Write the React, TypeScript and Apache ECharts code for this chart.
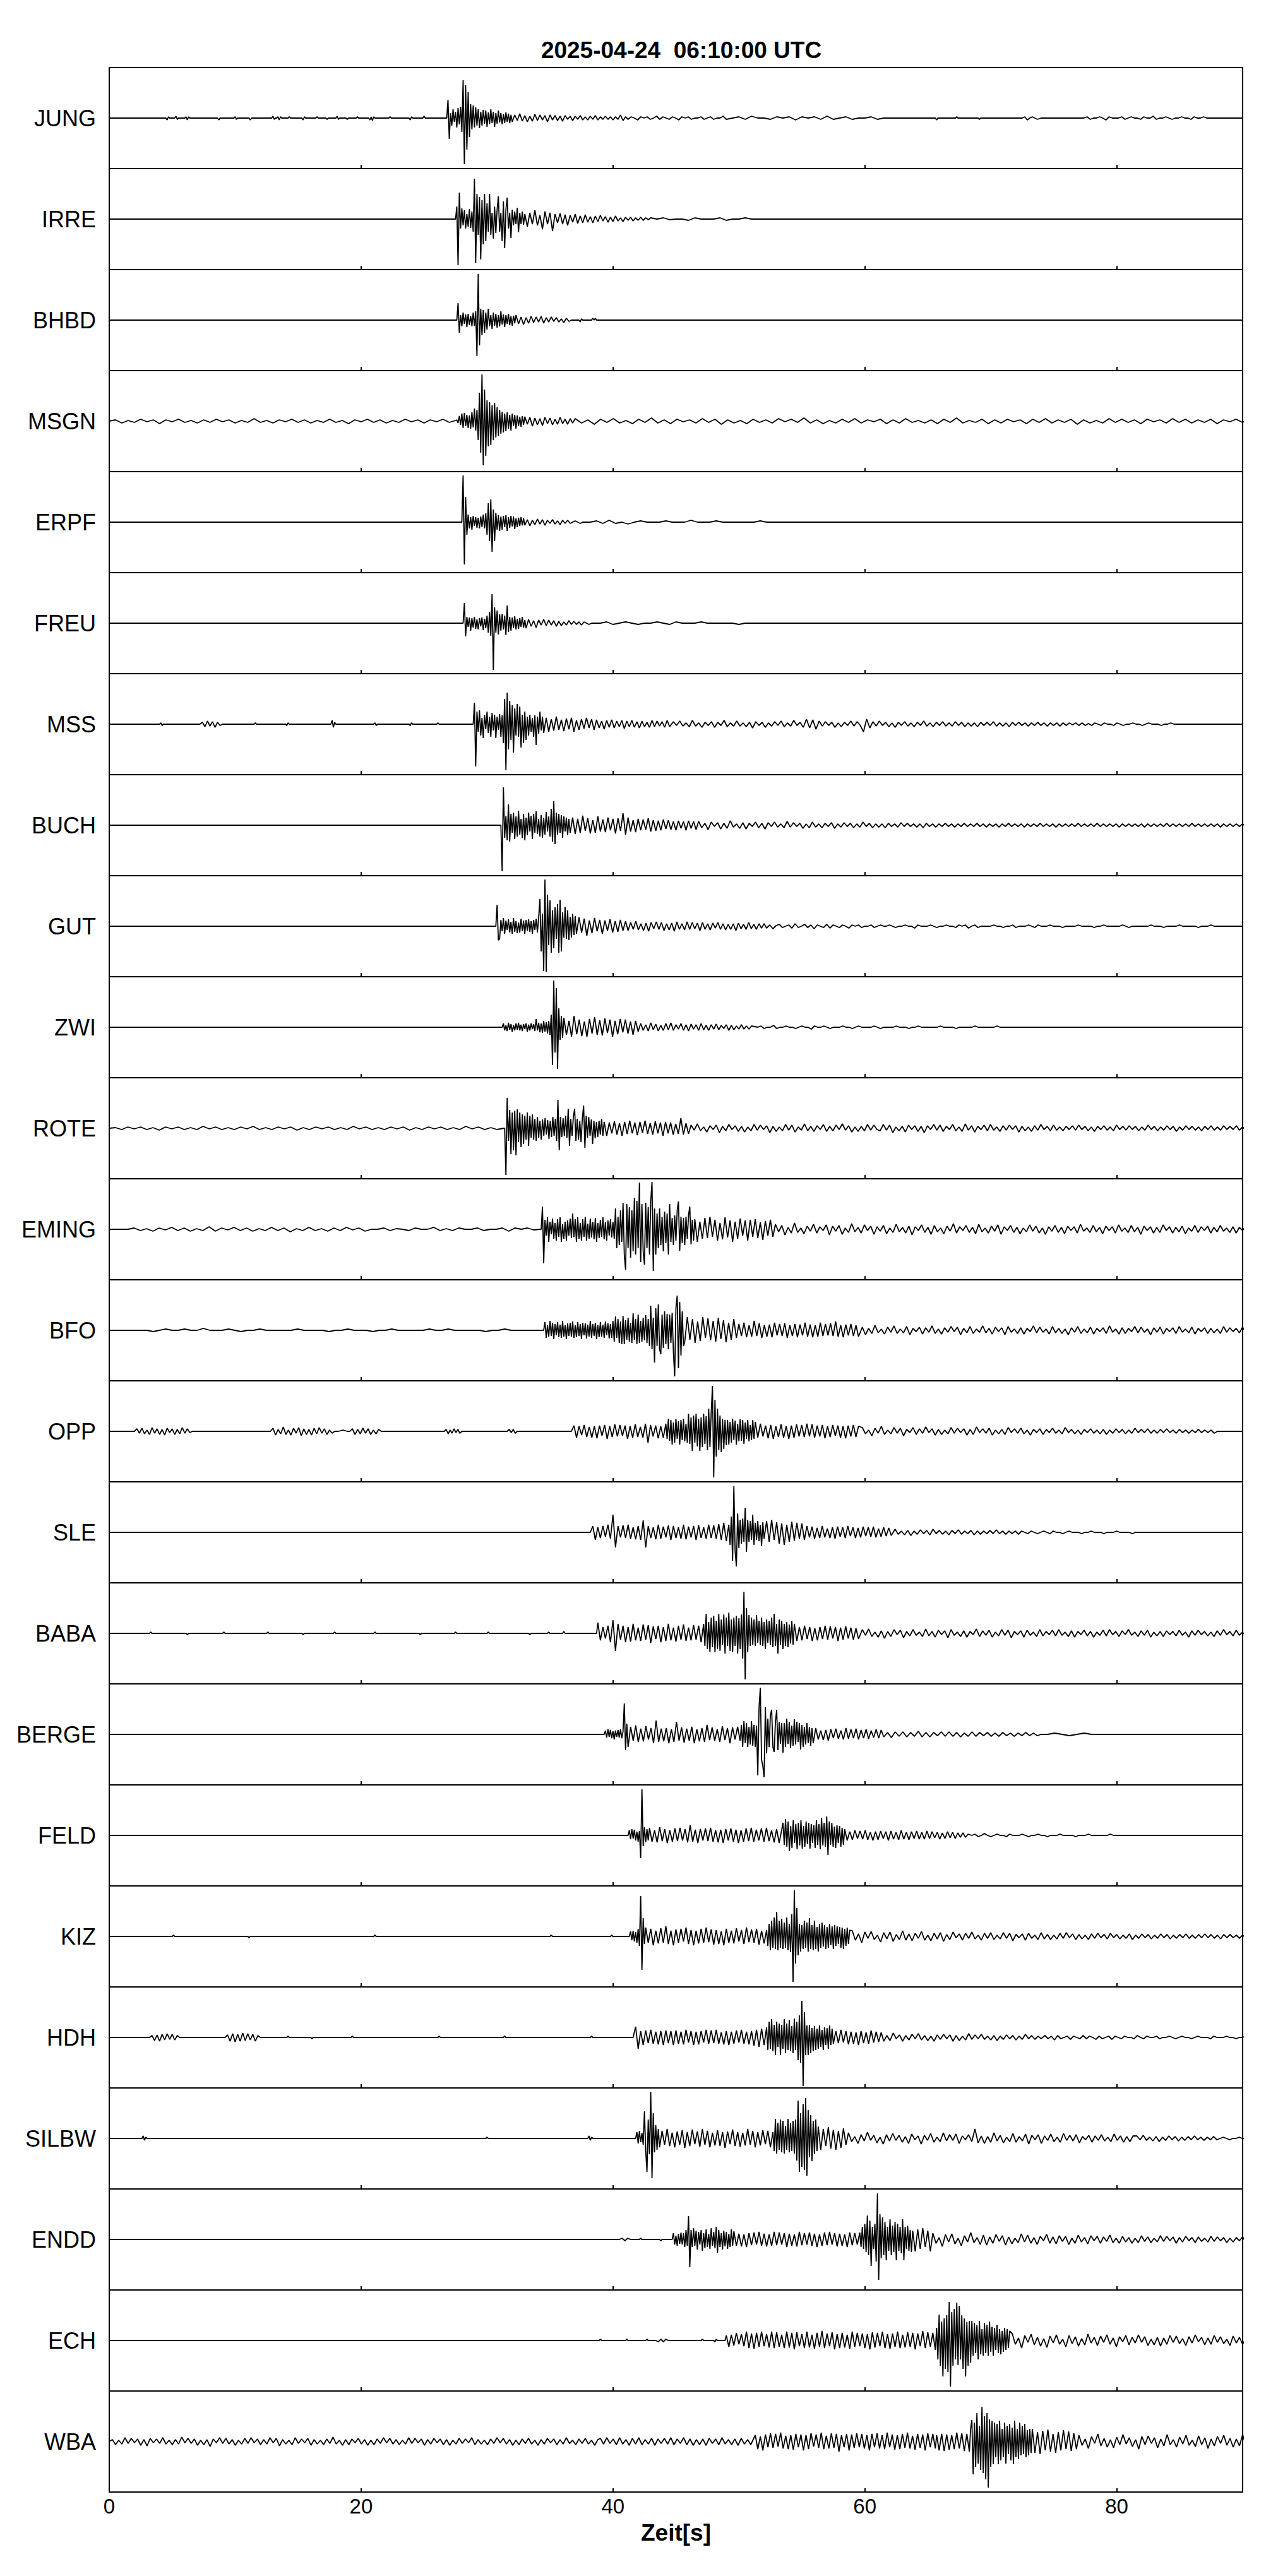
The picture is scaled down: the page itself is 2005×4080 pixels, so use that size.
import React, { useEffect, useRef } from 'react';
import * as echarts from 'echarts';

// A segment = [startTime (s), endTime (s), signed amplitudes (px, + = up)],
// samples spread evenly from startTime to endTime.
type Seg = [number, number, number[]];

const TITLE = '2025-04-24  06:10:00 UTC';
const X_NAME = 'Zeit[s]';
const X_MIN = 0;
const X_MAX = 90;
const X_STEP = 20;

const STATIONS = [
  'JUNG', 'IRRE', 'BHBD', 'MSGN', 'ERPF', 'FREU', 'MSS', 'BUCH', 'GUT', 'ZWI', 'ROTE', 'EMING',
  'BFO', 'OPP', 'SLE', 'BABA', 'BERGE', 'FELD', 'KIZ', 'HDH', 'SILBW', 'ENDD', 'ECH', 'WBA',
];

const JUNG: Seg[] = [
  [0, 4.4, [0, 0]], [4.5, 4.8, [0, -3, 2, 0]], [5.2, 5.5, [0, 3, -2, 0]], [6.0, 6.5, [0, 2, -3, 2, 0, 0]],
  [8.6, 8.8, [0, -3, 0]], [9.9, 10.2, [0, 2, -2, 0]], [11.1, 11.3, [0, -3, 0]], [12.9, 13.7, [0, 3, -2, 0, 0, 2, -3, 2, 0]],
  [14.2, 14.4, [0, 2, 0]], [15.3, 15.6, [0, -3, 2, 0]], [16.4, 16.6, [0, 2, 0]], [17.2, 17.4, [0, -2, 0]],
  [18.0, 18.3, [0, 3, -2, 0]], [18.8, 19.0, [0, -2, 0]], [19.6, 19.8, [0, 2, 0]], [20.6, 21.2, [0, -3, 2, -4, 2, 0, 0]],
  [22.2, 22.4, [0, 2, 0]], [23.8, 24.1, [0, -3, 2, 0]], [24.9, 25.1, [0, 3, 0]],
  [26.8, 31.9, [0, 29, -33, 8, -12, 14, -6, 10, -15, 16, -10, 18, -22, 60, -73, 52, -50, 41, -30, 22, -18, 20, -15, 17, -12, 14, -16, 10, -12, 13, -9, 12, -14, 9, -10, 14, -8, 10, -14, 8, -9, 12, -7, 8, -10, 6, -8, 9, -6, 7, -8, 5]],
  [32, 41, [-6, 5, -4, 7, -5, 4, -6, 3, -5, 6, -4, 5, -3, 4, -6, 5, -3, 4, -4, 3, -5, 4, -2, 3, -4, 3, -2, 4, -3, 2, -3, 3, -2, 4, -3, 2, -2, 3, -2, 2, -3, 2, -2, 5, -4, 2]],
  [41.2, 49, [-2, 2, 0, -3, 2, 0, 2, -2, 0, 3, -2, 2, 0, -2, 2, 0, -3, 2, 0, 2, -2, 0, 0, 2, -2, 0, 2, -2, 0, 0, 3, -2]],
  [49.5, 61, [0, 2, -2, 3, 0, 0, -2, 2, 0, 2, -3, 2, 0, 2, -2, 3, -2, 0, 2, -2, 0, 0, 2, -2]],
  [61.5, 65.5, [0, 0]], [65.6, 65.8, [0, -3, 0]], [67.2, 67.4, [0, 2, 0]], [69.0, 69.2, [0, -2, 0]],
  [72.5, 73.7, [0, 2, -3, 0, 2, 0, -2]], [74, 77.3, [0, 0]],
  [77.4, 87.4, [0, 2, -2, 0, 0, 2, 0, -3, 2, 0, 0, 0, 2, -2, 0, 2, 0, 0, -2, 2, 0, 0, 3, -2, 0, 0, 2, 0, -2, 0, 0, 2, 0, 0, -2, 2, 0, 0, 2, 0, 0]],
  [87.6, 90, [0, 0]],
];
const IRRE: Seg[] = [
  [0, 27.5, [0, 0]],
  [27.5, 33.0, [0, 20, -73, 42, -15, 17, -10, 14, -15, 8, -12, 16, -14, 12, -20, 64, -70, 40, -25, 35, -64, 30, -40, 40, -35, 25, -20, 40, -25, 10, -31, 20, -22, 15, 36, -20, 10, -35, 28, -46, 15, 34, -15, 10, -30, 15, -10, 12, -8, 18, -21, 10, -8, 12, -9, 8]],
  [33.2, 43.0, [-12, 10, -8, 14, -10, 6, -16, 12, -8, 10, -19, 8, -6, 9, -8, 7, -10, 6, -5, 8, -7, 5, -6, 7, -5, 4, -6, 5, -4, 6, -3, 4, -5, 3, -4, 5, -3, 2, -4, 3, -2, 3, -3, 2, -2, 3, -2, 2, -1, 2]],
  [43.5, 51, [0, 2, -1, 0, 0, -2, 2, 0, 0, 0, 2, -2, 0, 0, 2, 0]],
  [51.5, 90, [0, 0]],
];
const BHBD: Seg[] = [
  [0, 27.6, [0, 0]],
  [27.6, 32.3, [0, 27, -20, 8, -10, 12, -6, 9, -11, 10, -8, 7, -10, 12, -9, 14, -57, 73, -40, 18, -24, 16, -20, 12, -15, 18, -10, 8, -14, 12, -9, 10, -12, 8, -10, 14, -7, 9, -11, 8, -6, 10, -8, 6, -9, 7, -5, 8]],
  [32.5, 37.1, [-6, 5, -7, 4, -5, 6, -4, 5, -3, 6, -5, 4, -3, 5, -2, 4, -3, 2, -4, 3, -2, 0, 0, 0]],
  [37.3, 37.6, [0, -3, 2, 0]],
  [38.3, 38.7, [0, 3, 0, 3, 0]],
  [39, 90, [0, 0]],
];
const MSGN: Seg[] = [
  [0, 27.5, [0, 2, -3, 1, -2, 3, -1, 2, -4, 2, -1, 3, -2, 1, -3, 2, -2, 3, -1, 2, -3, 1, -2, 4, -2, 1, -3, 2, -1, 3, -2, 2, -3, 1, -2, 3, -2, 1, -4, 2, -1, 3, -2, 2, -3, 1, -2, 3, -1, 2, -3, 2, -1, 3, -2, 1]],
  [27.6, 32.9, [2, -3, 8, -6, 12, -11, 13, -8, 10, -11, 9, -12, 14, -10, 20, -15, 18, -30, 45, -50, 74, -70, 50, -55, 33, -40, 30, -38, 25, -30, 29, -26, 22, -24, 18, -20, 15, -18, 12, -16, 14, -12, 10, -15, 12, -8, 10, -12, 9, -8, 7, -9, 8, -6]],
  [33.0, 36.8, [7, -5, 6, -8, 5, -6, 4, -7, 6, -4, 5, -6, 3, -5, 6, -4, 3, -5, 4, -3]],
  [37, 91, [4, -3, 2, -5, 3, -2, 4, -3, 1, -4, 3, -2, 5, -3, 2, -4, 3, -1, 2, -3, 4, -2, 3, -5, 2, -3, 1, -4, 3, -2, 2, -3, 4, -1, 3, -2, 5, -3, 2, -4, 1, -3, 3, -2, 4, -3, 2, -1, 3, -4, 2, -3, 4, -2, 1, -3, 2, -4, 3, -2, 5, -3, 1, -2, 3, -4, 2, -3, 3, -1, 2, -4, 3, -2, 4, -3, 2, -2, 3, -5, 2, -3, 1, -3, 4, -2, 3, -2, 2, -4, 3, -1, 2, -3, 4, -2, 3, -3, 2, -2, 3, -4, 2, -1, 3, -2, 4, -3]],
];
const ERPF: Seg[] = [
  [0, 28, [0, 0]],
  [28.0, 32.9, [0, 74, -67, 40, -20, 12, -10, 8, -12, 10, -6, 8, -9, 7, -10, 9, -8, 12, -10, 14, -20, 30, -30, 36, -47, 20, -30, 15, -12, 11, -14, 9, -12, 10, -8, 11, -14, 8, -9, 10, -7, 9, -11, 6, -8, 7, -6, 8, -5, 6]],
  [33.0, 38.0, [-5, 4, -6, 3, -4, 5, -3, 4, -5, 3, -2, 4, -3, 2, -4, 3, -2, 3, -2, 0, 2, 0, -2, 0, 0, 0]],
  [38.2, 52.7, [0, 2, -2, 3, -2, 0, -3, 0, 2, 0, 0, 0, 2, 0, 0, 0, 3, 0, 0, 0, 2, 0, 0, 0, 0, 0, 0, 2, 0, 0]],
  [53, 90, [0, 0]],
];
const FREU: Seg[] = [
  [0, 28.1, [0, 0]],
  [28.1, 33.1, [0, 32, -21, 10, -6, 9, -12, 8, -7, 10, -9, 6, -10, 8, -5, 9, -11, 7, -8, 12, -15, 18, -20, 46, -74, 25, -15, 20, -18, 14, -12, 15, -10, 12, -19, 28, -14, 10, -12, 9, -8, 11, -10, 7, -9, 8, -6, 10, -7, 5, -8]],
  [33.3, 38.7, [6, -5, 4, -7, 5, -3, 6, -4, 5, -3, 4, -5, 3, -4, 2, -3, 4, -2, 3, -2, 2, -3, 2, 0, -2, 0, 0, 0]],
  [39, 51, [0, 2, -2, 0, 2, 0, -2, 0, 0, 2, 0, -2, 2, 0, 0, 0, 2, 0, 0, 0, 0, 0, -2, 0, 0]],
  [51.5, 90, [0, 0]],
];
const MSS: Seg[] = [
  [0, 4.0, [0, 0]], [4.0, 4.3, [0, 2, -2, 0]], [7.2, 9.0, [0, 3, -4, 5, -3, 4, -5, 3, -2, 0]], [11.5, 11.7, [0, 2, 0]],
  [14.0, 14.3, [0, -2, 2, 0]], [17.6, 18.0, [0, 6, -5, 3, 0]], [21, 21.3, [0, 2, -2, 0]], [23.8, 24.1, [0, -2, 2, 0]], [26, 26.2, [0, 2, 0]],
  [28.9, 34.5, [0, 34, -67, 20, -12, 22, -18, 10, -22, 15, -8, 20, -14, 12, -20, 18, -10, 15, -22, 12, -9, 16, -20, 14, -30, 40, -73, 50, -40, 37, -25, 30, -45, 25, -18, 32, -20, 28, -37, 15, -30, 20, -25, 12, -18, 15, -12, 10, -20, 14, -33, 12, -15, 20, -10, 12, -14]],
  [34.7, 44.5, [10, -12, 8, -10, 12, -9, 7, -11, 9, -8, 10, -12, 6, -9, 8, -7, 10, -6, 8, -9, 7, -6, 5, -8, 6, -5, 7, -6, 5, -4, 6, -7, 5, -4, 6, -5, 4, -6, 5, -4, 3, -5, 6, -4, 5, -3, 4, -5, 6, -4]],
  [44.8, 85.3, [
    4, -2, 5, -3, 2, -4, 6, -3, 2, -5, 3, -2, 4, -5, 3, -2, 6, -4, 2, -3,
    5, -3, 2, -4, 3, -6, 4, -2, 3, -5, 2, -3, 4, -2, 5, -4, 2, -3, 6, -2,
    3, -5, 8, -6, 7, -8, 5, -3, 4, -2, 3, -5, 2, -4, 3, -2, 5, -3, 4, -2,
    -12, 8, -6, 4, -3, 5, -2, 3, -4, 2, -5, 3, -2, 4, -3, 2, -4, 3, -2, 5,
    -3, 2, -4, 3, -2, 4, -3, 2, -3, 4, -2, 3, -4, 2, -3, 2, -4, 3, -2, 3,
    -2, 4, -3, 2, -3, 2, -4, 3, -2, 3, -2, 2, -3, 2, -2, 3, -2, 2, -3, 2,
    -2, 2, -3, 2, -2, 2, -1, 2, -2, 2, -2, 1, -2, 2, 0, -2, 2, 0, 0, -2,
    2, 0, -2, 0, 0, 2, 0, 0, -2, 0, 2, 0, 0, 0, -2, 0, 0, 2, 0, 0, 0, 0]],
  [86, 90, [0, 0]],
];
const BUCH: Seg[] = [
  [0, 31.1, [0, 0]],
  [31.1, 36.6, [0, -73, 60, -20, 15, -24, 33, -26, 18, -12, 20, -22, 14, -18, 23, -15, 10, -20, 18, -24, 12, -16, 20, -10, 15, -22, 18, -12, 22, -14, 10, -18, 16, -20, 12, -15, 21, -10, 14, -18, 26, -26, 38, -30, 20, -15, 18, -12, 16, -20, 14, -10, 12, -16, 10, -12]],
  [36.8, 46.6, [12, -14, 10, -12, 15, -9, 11, -13, 8, -12, 14, -10, 9, -11, 12, -8, 10, -13, 11, -9, 19, -15, 12, -10, 8, -11, 10, -8, 9, -7, 11, -10, 8, -9, 7, -8, 9, -6, 8, -7, 6, -8, 7, -5, 6, -8, 7, -5, 6, -7]],
  [46.8, 91, [
    6, -4, 3, -7, 5, -2, 4, -6, 3, -5, 7, -3, 2, -5, 4, -6, 3, -2, 5, -4,
    3, -6, 4, -2, 5, -3, 2, -4, 6, -3, 4, -2, 3, -5, 2, -4, 5, -3, 2, -4,
    3, -2, 4, -5, 2, -3, 4, -2, 3, -4, 2, -3, 5, -2, 3, -4, 2, -3, 2, -4,
    3, -2, 2, -3, 4, -2, 3, -2, 2, -3, 2, -4, 3, -2, 2, -3, 2, -2, 3, -2,
    2, -3, 2, -2, 3, -2, 2, -2, 3, -2, 2, -3, 2, -2, 2, -3, 2, -2, 3, -2,
    2, -2, 2, -3, 2, -2, 2, -2, 3, -2, 2, -2, 2, -3, 2, -2, 2, -2, 2, -2,
    3, -2, 2, -2, 2, -2, 3, -2, 2, -2, 2, -2, 2, -3, 2, -2, 2, -2, 2, -2,
    2, -3, 2, -2, 2, -2, 2, -2, 3, -2, 2, -2, 2, -2, 2, -2, 3, -2, 2, -2,
    2, -2, 2, -2, 2, -3, 2, -2, 2, -2, 2, -2, 2, -2, 2, -2, 0]],
];
const GUT: Seg[] = [
  [0, 30.7, [0, 0]],
  [30.7, 34.1, [0, 34, -22, -20, 10, -8, 13, -12, 9, -6, 11, -10, 7, -12, 13, -9, 8, -11, 6, -10, 12, -8, 9, -12, 10, -7, 11, -9, 8, -12, 10, -6, 12, -10, 14]],
  [34.2, 37.0, [43, -40, 20, -71, 74, -72, 50, -30, 41, -42, 25, -35, 30, -20, 35, -42, 42, -40, 22, -18, 31, -20, 25, -22, 15, -18, 20, -14, 16]],
  [37.1, 41.0, [-12, 14, -10, 12, -15, 9, -11, 13, -8, 10, -12, 9, -7, 11, -10, 8, -9, 10, -7, 8]],
  [41.2, 52.0, [-7, 6, -5, 8, -6, 4, -7, 5, -8, 6, -4, 7, -5, 6, -7, 4, -6, 5, -8, 7, -5, 4, -6, 7, -5, 6, -4, 5, -7, 6, -5, 4, -6, 5, -3, 6, -5, 4, -6, 3, -5, 4, -7, 5, -4, 3, -5, 6, -4, 3, -5, 4, -3, 4]],
  [52.2, 61.5, [-3, 2, -4, 1, 3, -2, 0, 2, -3, 4, -2, 0, 3, -2, 2, -4, 2, 0, -2, 3, -3, 2, 0, -2, 2, 0, -3, 2, 0, 2, -2, 0, 0, 2, -2, 0, 2, 0]],
  [61.7, 74, [0, 2, 0, -2, 0, 0, 2, 0, 0, -3, 2, 0, 0, 0, 2, 0, -2, 0, 0, 2, 0, 0, -2, 2, 0, 2, -3, 0, 2, -2, 0, 0, 0, 0, 2, 0, 0, -2, 0, 0, 2, -2, 0, 0, 0, 2, 0, -2, 2, 0]],
  [74.2, 90, [0, 0, 2, 0, 0, 0, -2, 0, 0, 0, 0, 2, 0, 0, 0, 0, -2, 0, 0, 2, 0, 0, 0, 0, 0, 2, 0, -2, 0, 0, 0, 0, 0, 0, 2, 0, 0, 0, -2, 0, 0, 0, 0, 2, 0, 0, 0, 0, 0, -2, 0, 0, 0, 2, 0, 0, 0, 0, 0, 0, 0, 0, 0, 0]],
];
const ZWI: Seg[] = [
  [0, 31.2, [0, 0]],
  [31.2, 34.8, [0, 6, -5, 3, -6, 7, -4, 5, -7, 3, -5, 6, -4, 7, -5, 4, -6, 5, -3, 6, -7, 4, -5, 6, -3, 5, -6, 13, -5, 7, -8, 6, -9, 10, -7, 8, -10]],
  [34.9, 36.0, [10, -12, 20, -60, 74, -40, 62, -66, 30, -20, 18, -17]],
  [36.1, 41.8, [15, -12, 10, -15, 18, -11, 12, -14, 9, -15, 13, -10, 16, -12, 11, -13, 14, -9, 12, -15, 10, -11, 13, -8, 12, -10, 9, -12, 10]],
  [42, 51, [-7, 6, -5, 4, -6, 7, -4, 5, -6, 3, -5, 6, -4, 7, -5, 4, -3, 6, -5, 4, -6, 5, -3, 4, -5, 6, -4, 3, -5, 4, -3, 5, -4, 3, -2, 4, -5, 3, -4, 2, -3, 4, -3, 2, -3, 2]],
  [51.5, 71, [0, 2, -2, 0, 0, 3, -2, 0, 0, 2, 0, 0, -2, 0, 2, 0, 0, -3, 2, 0, 0, 2, 0, -2, 0, 0, 0, 2, 0, 0, -2, 0, 2, 0, 0, 0, 0, 2, 0, -2, 0, 0, 0, 0, 2, 0, 0, 0, -2, 0, 0, 2, 0, 0, 0, 0, 0, 0, 2, 0, 0, 0, 0, -2, 0, 0, 0, 0, 0, 2, 0, 0, 0, 0, 0, 0, 2, 0, 0]],
  [71.5, 90, [0, 0]],
];
const ROTE: Seg[] = [
  [0, 31.3, [0, 1, -2, 2, -1, 2, -2, 1, -3, 2, -1, 2, -2, 1, -2, 3, -1, 2, -2, 1, -2, 2, -1, 3, -2, 1, -2, 2, -1, 2, -3, 1, -2, 2, -1, 2, -2, 1, -2, 3, -1, 2, -2, 1, -2, 2, -1, 2, -3, 1, -2, 2, -1, 2, -2, 1, -2, 3, -1, 2, -2, 1, -2, 0]],
  [31.4, 34.0, [0, -74, 48, -20, 29, -41, 25, -35, 28, -43, 30, -22, 25, -30, 22, -25, 20, -18, 25, -28, 20, -15, 22, -18, 15, -20, 18]],
  [34.1, 39.2, [-15, 12, -18, 14, -12, 16, -10, 13, -17, 12, -14, 18, -12, 15, -20, 45, -35, 18, -14, 16, -12, 20, -15, 31, -28, 15, -12, 18, 31, -20, 15, -18, 12, -22, 16, 36, -31, 20, -15, 18, -12, 14, -25, 12, -16, 10, -14, 12, -10, 15, -12]],
  [39.3, 46.0, [10, -12, 9, -8, 11, -10, 8, -12, 10, -9, 12, -8, 9, -11, 10, -7, 12, -9, 8, -10, 11, -8, 9, -12, 10, -8, 9, -10, 7, -9, 16, -10, 8, -9]],
  [46.2, 91, [
    5, -3, 7, -4, 2, -6, 4, -2, 5, -7, 3, -4, 6, -2, 4, -5, 3, -6, 2, -4,
    6, -3, 5, -2, 4, -7, 3, -5, 2, -4, 6, -3, 5, -6, 2, -3, 7, -4, 3, -5,
    4, -2, 6, -5, 3, -4, 5, -2, 7, -3, 4, -6, 2, -5, 3, -4, 6, -3, 5, -2,
    -4, 6, -3, 5, -7, 2, -4, 3, -6, 5, -2, 4, -5, 3, -7, 4, -2, 6, -3, 5,
    -5, 3, -2, 6, -4, 2, -5, 7, -3, 4, -6, 3, -2, 5, -4, 6, -3, 2, -5, 4,
    -3, 5, -2, 4, -6, 3, -4, 2, -5, 4, -3, 6, -2, 3, -4, 5, -3, 2, -4, 3,
    -2, 4, -3, 5, -2, 3, -4, 2, -5, 3, -2, 4, -3, 2, -4, 5, -2, 3, -3, 4,
    -2, 3, -4, 2, -3, 5, -2, 3, -4, 2, -3, 4, -2, 3, -5, 2, -3, 4, -2, 3,
    -3, 2, -4, 3, -2, 4, -3, 2, -3, 4, -2, 3, -2, 4, -3, 2, -3, 3, -2, 2]],
];
const EMING: Seg[] = [
  [0, 34.2, [0, 0, 0, 0, 2, -2, 1, -3, 2, -1, 3, -2, 2, -3, 1, -2, 4, -3, 2, -1, 3, -2, 2, -3, 1, -2, 3, -2, 2, -4, 1, -2, 3, -2, 1, -3, 2, -2, 3, -1, 2, -3, 0, 0, 2, -2, 1, 0, -2, 2, 0, 0, 3, -2, 1, -2, 2, 0, 0, 2, -2, 0, 0, 2, -3, 2, 0, 2, -1, 0]],
  [34.3, 40.1, [0, 36, -54, 15, -10, 19, -20, 12, -8, 17, -15, 10, -18, 16, -12, 19, -20, 8, -15, 12, -18, 14, -10, 17, -14, 25, -12, 16, -20, 19, -15, 10, -18, 16, -12, 20, -18, 9, -15, 17, -13, 12, -16, 18, -20, 10, -14, 15, -12, 19, -16, 11, -18, 14, -10, 16, -13, 12, -15]],
  [40.2, 46.4, [33, -30, 20, -25, 30, -20, 42, -40, -64, 40, -30, 35, -45, 30, -35, 50, -40, 45, -30, 74, -52, 40, -35, -56, 42, -30, 35, -40, 45, 75, -66, 33, -40, 25, -30, 33, -25, 20, -35, 28, -22, 25, -40, 40, -20, 18, -25, 22, -18, 30, 44, -34, 20, -22, 18, -25, 20, -15, 22, 36, -24, 15, -18]],
  [46.5, 52.7, [16, -20, 12, -15, 18, -14, 20, -12, 15, -18, 10, -16, 19, -13, 14, -20, 12, -15, 17, -10, 14, -18, 15, -12, 16, -14, 11, -17, 13, -10, 15, -12]],
  [52.9, 91, [
    8, -4, 6, -9, 3, -6, 10, -5, 2, -7, 5, -3, 8, -6, 4, -2, 7, -9, 5, -3,
    6, -8, 2, -5, 9, -4, 3, -6, 7, -2, 5, -8, 4, -3, 6, -7, 2, -5, 8, -4,
    3, -6, 5, -9, 4, -2, 7, -5, 3, -8, 6, -4, 2, -7, 5, -3, 9, -6, 4, -2,
    6, -5, 3, -7, 8, -4, 2, -6, 5, -3, 7, -8, 4, -2, 6, -5, 3, -7, 2, -4,
    7, -3, 5, -6, 2, -8, 4, -3, 6, -5, 3, -7, 5, -2, 4, -6, 8, -3, 2, -5,
    6, -4, 3, -7, 5, -2, 4, -6, 7, -3, 2, -5, 6, -4, 3, -8, 5, -2, 4, -6,
    3, -5, 7, -2, 4, -6, 3, -4, 5, -7, 2, -3, 6, -5, 4, -2, 5, -6, 3, -4,
    6, -3, 2, -5, 4, -6, 3, -2, 5, -4, 6, -3]],
];
const BFO: Seg[] = [
  [0, 34.4, [0, 0, 0, 0, 0, 0, 0, -2, 0, 2, 0, 0, 2, 0, 0, 3, 0, 0, 0, 2, 0, -2, 0, 0, 2, 0, 0, 0, 0, 0, 2, 0, 0, 0, 0, -2, 0, 0, 2, 0, 0, 0, -2, 0, 0, 2, 0, 0, 0, 0, 0, 2, 0, 0, 2, 0, 0, 0, 0, 0, -2, 0, 0, 2, 0, 0, 0, 0, 0, 0]],
  [34.5, 39.9, [0, 13, -12, 8, -10, 15, -9, 12, -14, 10, -8, 13, -11, 9, -12, 15, -10, 8, -14, 11, -9, 12, -10, 14, -12, 8, -11, 13, -9, 10, -14, 12, -8, 11, -13, 9, -10, 15, -12, 10, -9, 12, -14, 8, -11, 13, -10, 9, -12, 14, -8, 11, -13, 10, -12]],
  [40.0, 45.6, [15, -18, 22, -12, 18, -20, 14, -22, 23, -22, 16, -15, 20, -18, 12, -20, 27, -15, 18, -22, 25, -20, 15, -18, 20, -16, 24, -20, 18, -25, 39, -30, 20, -51, 35, -25, 41, -30, -38, 25, -28, 30, -22, 26, -30, 25, -20, 28, -35, -73, 35, 55, -60, 45, -40, 30, -25]],
  [45.7, 49.8, [-18, 21, -15, 18, -20, 14, -17, 21, -12, 19, -16, 15, -18, 20, -14, 16, -19, 12, -15, 18, -12]],
  [50, 59.5, [10, -9, 12, -11, 8, -10, 15, -9, 11, -12, 8, -10, 9, -11, 12, -8, 10, -9, 11, -12, 8, -9, 10, -11, 9, -8, 12, -10, 9, -11, 8, -10, 12, -9, 10, -8, 11, -9, 14, -10, 8, -11, 9, -8, 10, -9, 8, -10]],
  [59.8, 91, [
    5, -7, 3, -5, 8, -4, 2, -6, 5, -3, 7, -5, 2, -4, 6, -7, 3, -2, 5, -6,
    4, -3, 7, -5, 2, -6, 4, -3, 6, -2, 5, -7, 3, -4, 6, -5, 2, -3, 7, -4,
    3, -6, 5, -2, 4, -7, 6, -3, 2, -5, 4, -6, 3, -2, 7, -4, 5, -3, 2, -6,
    6, -4, 3, -5, 2, -7, 4, -3, 6, -5, 2, -4, 5, -6, 3, -2, 4, -5, 7, -3,
    2, -6, 4, -5, 3, -2, 6, -4, 5, -3, 2, -7, 4, -3, 5, -6, 3, -2, 4, -5,
    6, -3, 2, -4, 5, -6, 3, -2, 4, -5, 3, -4, 2, -5, 6, -3, 4, -2, 3, -4,
    5, -3, 2, -4, 3]],
];
const OPP: Seg[] = [
  [0, 1.9, [0, 0]],
  [2.0, 6.6, [0, 4, -3, 5, -4, 2, -5, 6, -3, 4, -5, 3, -6, 5, -2, 4, -5, 3, -4, 6, -3, 4, -2, 0]],
  [7, 12.6, [0, 0]],
  [12.8, 17.9, [0, 5, -6, 3, -4, 7, -5, 2, -6, 5, -3, 6, -7, 4, -5, 3, -6, 5, -4, 6, -3, 4, -5, 2, -3, 0]],
  [18.2, 18.9, [0, 2, 0]],
  [19.1, 21.6, [0, 4, -5, 3, -4, 5, -3, 4, -5, 2, -4, 3, 0]],
  [22, 26.5, [0, 0]],
  [26.6, 28.0, [0, 3, -4, 2, -3, 4, -2, 3, -3, 0]],
  [28.2, 31.5, [0, 0]],
  [31.6, 32.4, [0, 3, -2, 3, -3, 0]],
  [32.6, 36.6, [0, 0]],
  [36.7, 44.2, [0, 9, -10, 8, -6, 10, -9, 7, -10, 8, -11, 9, -7, 10, -12, 8, -9, 11, -8, 10, -7, 9, -12, 8, -10, 11, -9, 7, -10, 12, -18, 10, -8, 9, -11, 8, -10, 12]],
  [44.3, 47.4, [-12, 20, -15, 18, -21, 14, -18, 20, -12, 16, -21, 18, -14, 20, -16, 12, -18, 28, -20, 22, -31, 25, -18, 28, -24, 20, -31, 22, -25, 28, -20, 24]],
  [47.5, 49.0, [-30, 36, -25, 30, 72, -73, 50, -40, 36, -30, 25, -33, 20, -28, 18, -22]],
  [49.1, 51.3, [18, -21, 15, -18, 20, -14, 17, -21, 12, -16, 19, -15, 18, -20, 14, -12, 18, -16, 10, -14, 18, -12, 15]],
  [51.5, 59.5, [-10, 12, -8, 9, -11, 10, -12, 8, -9, 11, -10, 8, -12, 9, -10, 11, -8, 10, -9, 12, -8, 11, -10, 9, -8, 10, -11, 8, -9, 10, -7, 9, -10, 8, -11, 9, -8, 10, -9, 8]],
  [59.8, 88, [
    6, -4, 2, -7, 5, -3, 8, -5, 2, -4, 6, -3, 5, -7, 3, -2, 6, -5, 4, -3,
    7, -2, 4, -6, 3, -5, 2, -4, 6, -3, 5, -2, 4, -6, 3, -5, 7, -2, 4, -3,
    5, -6, 2, -4, 3, -5, 6, -2, 4, -3, 5, -4, 2, -6, 3, -2, 4, -5, 3, -2,
    5, -3, 2, -4, 6, -2, 3, -4, 2, -5, 3, -2, 4, -3, 2, -4, 3, -5, 2, -3,
    4, -2, 3, -4, 2, -3, 5, -2, 3, -2, 4, -3, 2, -3, 3, -2, 4, -2, 2, -3,
    3, -2, 2, -3, 2, -2, 3, -2, 2, -2, 2, -3, 0]],
  [88.5, 90, [0, 0]],
];
const SLE: Seg[] = [
  [0, 38.1, [0, 0]],
  [38.2, 49.2, [0, 10, -12, 8, -9, 10, -7, 12, -10, 28, -24, 10, -8, 11, -9, 12, -10, 8, -11, 10, -12, 19, -24, 10, -9, 8, -11, 12, -10, 9, -8, 11, -12, 10, -9, 8, -10, 12, -11, 9, -8, 10, -12, 11, -9, 8, -10, 12, -9, 11, -10, 13, -12, 15, -14, 12]],
  [49.3, 52.0, [-20, 25, -45, 73, -30, -54, 30, -25, 20, -18, 22, -15, 39, -31, 20, -15, 18, -12, 28, -20, 15, -12, 18, -14, 12, -22, 16, -10]],
  [52.2, 55.2, [18, -15, 20, -12, 16, -18, 14, -20, 12, -15, 17, -13, 15, -10, 14, -12]],
  [55.4, 62.1, [10, -8, 9, -10, 7, -9, 10, -8, 6, -9, 8, -10, 9, -7, 8, -9, 10, -6, 8, -9, 7, -8, 9, -6, 8, -7, 9, -8, 6, -7, 8, -6, 7, -5]],
  [62.4, 83, [5, -3, 2, -4, 3, -5, 2, -3, 4, -2, 3, -4, 5, -2, 3, -3, 2, -4, 3, -2, 4, -3, 2, -2, 3, -4, 2, -3, 2, -2, 3, -2, 4, -2, 2, -3, 2, -2, 2, -3, 2, 0, -2, 2, 0, -2, 0, 2, 0, -2, 2, 0, 0, -2, 0, 2, 0, 0, 0, -2, 0, 0, 2, 0, 0, 0, -2, 0, 0, 0, 2, 0, 0, 0, 0, -2, 0, 0, 0, 0, 0, 0, 0]],
  [83.5, 90, [0, 0]],
];
const BABA: Seg[] = [
  [0, 3, [0, 0]], [3.2, 3.4, [0, 2, 0]], [6.1, 6.3, [0, -2, 0]], [9, 9.2, [0, 2, 0]], [12.5, 12.7, [0, 2, 0]],
  [15.3, 15.5, [0, -2, 0]], [17.8, 18, [0, 2, 0]], [21, 21.2, [0, 2, 0]], [24.6, 24.8, [0, -2, 0]], [27.4, 27.6, [0, 2, 0]],
  [30, 30.2, [0, 2, 0]], [33.3, 33.5, [0, -2, 0]], [34.8, 35, [0, 2, 0]], [36.0, 36.2, [0, 3, 0]], [36.4, 38.7, [0, 0]],
  [38.8, 47.2, [17, -11, 10, -8, 12, -14, 21, -28, 15, -10, 12, -14, 10, -13, 15, -11, 9, -12, 14, -10, 13, -15, 11, -9, 12, -14, 10, -12, 15, -11, 9, -13, 12, -10, 14, -12, 9, -11, 13, -10, 12, -14, 15]],
  [47.3, 50.2, [-20, 31, -25, 18, -30, 25, -22, 28, -30, 20, -25, 31, -28, 22, -18, 30, -32, 25, -20, 33, -28, 22, -30, 25, -20, 28, -32, 24, -25, 30]],
  [50.3, 51.8, [-40, 66, -73, 40, -30, 29, -20, 25, -18, 22, -20, 29, -15, 20, -18, 25]],
  [51.9, 54.4, [-20, 18, -25, 22, -15, 20, -18, 25, -22, 31, -20, 15, -32, 22, -18, 20, -25, 15, -20, 18, -22, 14, -16, 20, -18, 15]],
  [54.6, 59.5, [-12, 10, -11, 12, -9, 10, -12, 8, -11, 10, -9, 12, -10, 11, -8, 10, -12, 9, -10, 11, -8, 9, -10, 8, -9]],
  [59.8, 91, [
    6, -3, 7, -5, 2, -6, 4, -8, 3, -5, 6, -2, 5, -7, 3, -4, 6, -3, 2, -5,
    7, -4, 3, -6, 5, -2, 4, -7, 6, -3, 2, -5, 4, -6, 3, -2, 7, -5, 4, -3,
    5, -6, 2, -4, 6, -3, 5, -7, 3, -2, 4, -6, 5, -3, 2, -5, 6, -4, 3, -2,
    5, -4, 6, -3, 2, -5, 4, -6, 3, -2, 5, -4, 3, -6, 2, -3, 5, -4, 6, -2,
    3, -5, 4, -2, 6, -3, 2, -5, 4, -3, 5, -6, 2, -4, 3, -5, 4, -2, 3, -4,
    5, -3, 2, -6, 4, -3, 5, -2, 3, -4, 2, -5, 4, -3, 6, -2, 3, -4, 5, -3,
    2, -4, 3, -5, 4]],
];
const BERGE: Seg[] = [
  [0, 39.2, [0, 0]],
  [39.3, 41.1, [0, 6, -5, 8, -4, 7, -6, 5, -8, 6, -4, 7, -5, 8, -6, 5, 49, -25, 17]],
  [41.2, 50.1, [-20, 12, -10, 14, -12, 9, -11, 13, -8, 10, -14, 22, -12, 9, -11, 10, -14, 8, -12, 20, -10, 11, -13, 9, -10, 12, -14, 8, -11, 10, -12, 15, -9, 11, -10, 8, -12, 13, -9, 10, -14, 11, -8, 12, -10]],
  [50.2, 53.5, [15, -20, 21, -14, 18, -20, 12, -16, 21, -18, 15, -20, 14, -65, 43, 74, -40, -50, -68, 43, -30, 25, -20, 30, 39, -20, -28, 20, 39, -25, 20, -15, 18, -29]],
  [53.6, 55.9, [18, -20, 25, -15, 20, -22, 14, -18, 24, -16, 20, -12, 18, -24, 15, -20, 12, -16, 18, -14, 12, -18, 10, -14]],
  [56.1, 61.3, [10, -8, 6, -9, 7, -10, 8, -6, 9, -7, 6, -8, 10, -7, 8, -6, 9, -8, 7, -6, 8, -7, 6, -5, 8, -6, 7]],
  [61.5, 74, [-4, 3, -5, 4, -3, 4, -4, 3, -3, 5, -4, 3, -4, 3, -2, 4, -3, 4, -3, 3, -4, 2, -3, 4, -3, 3, -2, 3, -3, 2, -3, 3, -2, 2, -3, 2, -2, 3, -2, 2, -2, 0]],
  [74.5, 78, [0, 2, 0, -2, 0, 2, 0]],
  [78.5, 90, [0, 0]],
];
const FELD: Seg[] = [
  [0, 41.1, [0, 0]],
  [41.2, 42.8, [0, 8, -6, 10, -5, 9, -8, 6, -10, 7, -36, 73, -17, 13, -11, 10, -8]],
  [42.9, 53.4, [12, -10, 8, -11, 13, -9, 10, -12, 8, -10, 11, -9, 12, -8, 10, -11, 16, -10, 9, -12, 10, -8, 11, -9, 12, -10, 8, -11, 9, -12, 10, -8, 11, -10, 9, -12, 8, -10, 11, -9, 12, -10, 9, -8, 11, -10, 12, -9, 8, -11, 10, -12, 9]],
  [53.5, 58.4, [20, -15, 26, -18, 22, -25, 15, -20, 24, -12, 18, -22, 20, -16, 24, -21, 15, -18, 22, -14, 20, -21, 18, -12, 16, -20, 24, -15, 18, -22, 28, -16, 20, -18, 30, -31, 22, -15, 20, -18, 14, -20, 16, -12, 15, -18, 12, -15, 10]],
  [58.6, 68.2, [-8, 6, -7, 8, -5, 7, -6, 8, -7, 5, -8, 6, -7, 7, -5, 6, -8, 7, -6, 5, -7, 8, -6, 5, -7, 6, -5, 7, -6, 5, -6, 7, -5, 6, -4, 5, -6, 4, -5, 6, -4, 5, -5, 4, -3, 4, -3, 2]],
  [68.5, 80, [0, 2, -2, 0, 3, 0, -2, 0, 2, 0, 0, -2, 2, 0, 0, 0, 2, 0, -2, 0, 0, 2, 0, 0, -2, 0, 0, 0, 2, 0, 0, 0, 0, -2, 0, 0, 0, 2, 0, 0, 0, 0, 0, 0, 2, 0, 0]],
  [80.5, 90, [0, 0]],
];
const KIZ: Seg[] = [
  [0, 4.9, [0, 0]], [5.0, 5.2, [0, 2, 0]], [11, 11.2, [0, -2, 0]], [21, 21.2, [0, 2, 0]], [35, 35.2, [0, 2, 0]], [39.8, 40.0, [0, 2, 0]], [40.2, 41.3, [0, 0]],
  [41.4, 42.5, [8, -6, 9, -8, 7, -10, 12, -15, 64, -53, 29, -12]],
  [42.6, 52.2, [14, -10, 12, -14, 9, -11, 13, -10, 16, -12, 9, -14, 11, -10, 12, -8, 14, -12, 10, -14, 9, -11, 12, -10, 14, -9, 11, -13, 10, -12, 8, -14, 12, -10, 9, -11, 13, -8, 10, -12, 14, -9, 11, -10, 12, -13, 9, -11, 10]],
  [52.3, 54.2, [-15, 20, -22, 25, -18, 30, -20, 39, -22, 25, -18, 28, -20, 22, -18, 30, -22, 20, -25, 35]],
  [54.3, 54.7, [-72, 73, -43, 45, -30]],
  [54.8, 58.8, [20, -24, 18, -20, 25, -18, 22, -24, 29, -20, 18, -22, 25, -20, 15, -24, 20, -18, 22, -16, 18, -20, 15, -18, 20, -14, 16, -20, 18, -15, 16, -12, 15, -18, 14, -20, 12, -15, 14, -12, 10]],
  [59, 91, [
    9, -6, 4, -10, 7, -3, 8, -5, 2, -9, 6, -4, 7, -8, 3, -5, 9, -6, 4, -7,
    5, -3, 8, -6, 2, -7, 5, -4, 6, -8, 3, -5, 7, -2, 4, -6, 5, -3, 7, -4,
    2, -6, 5, -3, 6, -5, 2, -4, 6, -3, 5, -7, 3, -2, 4, -6, 5, -3, 2, -5,
    6, -4, 3, -5, 2, -4, 5, -3, 6, -2, 4, -5, 3, -4, 2, -5, 4, -3, 5, -2,
    3, -4, 5, -2, 3, -4, 2, -3, 4, -5, 2, -3, 4, -2, 3, -4, 2, -3, 4, -2,
    3, -4, 2, -3, 3, -2, 4, -3, 2, -3, 3, -2, 4, -2, 3, -3, 2, -4, 3, -2,
    3, -2, 2, -3, 2, -2, 3, -2, 0]],
];
const HDH: Seg[] = [
  [0, 3.0, [0, 0]],
  [3.2, 5.6, [0, 3, -5, 4, -6, 5, -4, 6, -3, 5, -4, 3, 0]],
  [6, 9, [0, 0]],
  [9.2, 12.0, [0, 4, -6, 6, -7, 5, -6, 7, -5, 6, -4, 5, -6, 3, 0]],
  [12.4, 14, [0, 0]], [14.1, 14.3, [0, 2, 0]], [16, 16.2, [0, -2, 0]], [19.2, 19.4, [0, 2, 0]],
  [26.1, 26.3, [0, 2, 0]], [31.3, 31.5, [0, 2, 0]], [38.2, 38.4, [0, 2, 0]], [38.6, 41.4, [0, 0]],
  [41.6, 52.2, [0, 17, -18, 10, -12, 11, -9, 12, -10, 9, -11, 10, -12, 11, -9, 10, -12, 11, -10, 9, -11, 12, -8, 10, -12, 9, -11, 10, -8, 12, -10, 11, -9, 12, -10, 8, -11, 10, -12, 9, -10, 11, -8, 12, -10, 9, -11, 10, -13, 12, -15, 14, -12, 16]],
  [52.3, 54.7, [-20, 25, -18, 29, -22, 20, -28, 25, -15, 22, -28, 20, -18, 29, -25, 22, -20, 28, -22, 18, -25, 30, -20, 25, -36]],
  [54.8, 55.3, [35, -40, 58, -77, 40, -28]],
  [55.4, 57.5, [19, -28, 20, -25, 15, -22, 18, -20, 14, -18, 19, -15, 12, -20, 16, -12, 15, -18, 19, -12, 14, -10]],
  [57.7, 61.3, [10, -9, 12, -8, 10, -11, 9, -10, 8, -12, 10, -9, 8, -10, 11, -8, 9, -7, 8]],
  [61.5, 74, [-6, 3, -5, 7, -2, 4, -6, 3, -4, 5, -2, 6, -4, 3, -5, 2, -6, 4, -3, 5, -2, 4, -6, 3, -5, 2, -4, 6, -3, 4, -2, 5, -3, 2, -4, 3, -5, 2, -3, 4, -2, 3, -4, 2, -3, 5, -2, 3, -3, 2, -2]],
  [74.3, 91, [3, -2, 2, -4, 3, -2, 0, 2, -3, 2, 0, -2, 3, -2, 2, 0, -3, 2, -2, 0, 2, -3, 2, 0, -2, 2, 0, 0, -2, 3, 0, -2, 2, 0, 0, 2, -2, 0, 0, 2, 0, -2, 0, 2, 0, 0, -2, 0, 2, 0, 0, 0, -2, 2, 0, 0, 0, 2, 0, 0, -2, 0, 0, 2, 0, 0, 0]],
];
const SILBW: Seg[] = [
  [0, 2.6, [0, 0]], [2.6, 3.0, [0, 4, -3, 2, 0]], [3.2, 29.8, [0, 0]], [29.9, 30.1, [0, 2, 0]], [30.3, 37.9, [0, 0]],
  [38.0, 38.4, [0, 4, -3, 2, 0]], [38.6, 41.8, [0, 0]],
  [41.9, 43.6, [10, -8, 12, -6, 9, -10, 43, -20, -53, 30, -25, 74, -63, 40, -22, 21, -18, 15]],
  [43.7, 52.7, [-14, 12, -10, 15, -12, 9, -14, 11, -10, 13, -15, 10, -12, 14, -9, 11, -13, 15, -10, 12, -14, 9, -11, 13, -12, 10, -15, 11, -9, 14, -12, 10, -13, 9, -11, 15, -10, 12, -14, 10, -11, 13, -9, 12, -14, 10]],
  [52.8, 56.2, [-20, 31, -24, 25, -18, 30, -22, 28, -24, 20, -18, 31, -22, 25, -20, 28, -24, 30, -35, 60, -53, 40, -45, 55, -50, 64, -59, 45, -30, 37, -36, 28, -25, 30, -20]],
  [56.3, 58.5, [19, -18, 15, -12, 18, -16, 14, -18, 12, -15, 16, -10]],
  [58.7, 81.3, [
    9, -5, 3, -8, 6, -4, 10, -3, 5, -7, 2, -9, 6, -4, 8, -3, 5, -6, 3, -8,
    7, -2, 4, -9, 5, -3, 8, -6, 2, -5, 9, -4, 6, -3, 7, -8, 4, -2, 6, -5,
    15, -7, 4, -8, 3, -6, 9, -4, 5, -7, 2, -5, 8, -6, 3, -4, 7, -9, 5, -2,
    6, -8, 4, -3, 7, -5, 2, -6, 8, -3, 5, -4, 6, -7, 3, -2, 5, -6, 4, -3,
    6, -4, 2, -5, 7, -3, 4, -6, 3, -5, 4]],
  [81.6, 91, [4, -2, 5, -3, 2, -4, 3, -5, 2, -3, 4, -2, 3, -4, 2, -3, 3, -2, 4, -2, 2, -3, 2, -2, 3, -2, 0, 2, 0, -2, 0, 0, 2, 0, 0, -2, 0, 0]],
];
const ENDD: Seg[] = [
  [0, 40.4, [0, 0]], [40.5, 41.4, [0, 2, -2, 2, 0]], [42.1, 42.3, [0, 2, 0]], [43.7, 43.9, [0, -2, 0]], [44.2, 44.7, [0, 0]],
  [44.8, 49.6, [10, -8, 6, -10, 9, -7, 11, -8, 10, -12, 15, -10, 37, -44, 15, -12, 18, -10, 14, -16, 12, -8, 15, -18, 10, -14, 16, -12, 9, -15, 18, -10, 12, -14, 20, -21, 15, -12, 10, -16, 14, -11, 12, -15, 9, -12, 16, -10, 13]],
  [49.8, 59.6, [-10, 9, -11, 8, -12, 10, -9, 11, -8, 12, -10, 9, -11, 8, -10, 12, -9, 11, -8, 10, -12, 9, -10, 8, -11, 12, -9, 10, -8, 11, -10, 9, -12, 8, -10, 11, -9, 12, -8, 10, -11, 9, -10, 8, -12, 11, -9, 10, -8, 11]],
  [59.7, 63.8, [-12, 20, -15, 25, -20, 38, -25, 30, -42, 20, -15, 25, -35, 73, -64, 40, -30, 35, -25, 28, -33, 20, -18, 32, -25, 22, -20, 28, -33, 25, -18, 20, -22, 32, -33, 20, -15, 22, -18, 15, -20, 14]],
  [64.0, 65.2, [-19, 16, -15, 18, -12, 14, -19]],
  [65.4, 90.5, [
    10, -6, 3, -11, 8, -4, 9, -7, 2, -10, 6, -4, 11, -5, 3, -8, 7, -9, 4, -6,
    8, -3, 6, -9, 4, -7, 2, -5, 9, -4, 7, -6, 3, -8, 5, -2, 8, -6, 4, -7,
    6, -3, 5, -8, 2, -6, 7, -4, 3, -7, 6, -2, 5, -6, 4, -3, 7, -5, 2, -6,
    5, -4, 3, -6, 2, -5, 6, -3, 4, -5, 2, -4, 6, -3, 5, -2, 4, -6, 3, -4,
    5, -2, 3, -5, 4, -3, 2, -4, 5, -3, 4, -2, 3, -5, 2, -4, 3, -2, 4, -3,
    0]],
];
const ECH: Seg[] = [
  [0, 38.8, [0, 0]], [38.9, 39.1, [0, 2, 0]], [41.0, 41.2, [0, 2, 0]], [42.6, 42.8, [0, 2, 0]], [43.4, 44.4, [0, -2, 2, -2, 2, 0]],
  [47.0, 47.2, [0, 2, 0]], [48.0, 48.3, [0, -2, 2, 0]], [48.5, 48.9, [0, 0]],
  [49.0, 65.6, [8, -10, 9, -8, 12, -6, 10, -9, 14, -12, 11, -13, 12, -10, 14, -9, 10, -11, 14, -12, 13, -10, 9, -12, 14, -11, 12, -14, 13, -9, 10, -12, 14, -11, 9, -13, 12, -10, 15, -12, 11, -9, 13, -14, 10, -12, 12, -11, 9, -13, 14, -10, 12, -9, 11, -12, 10, -14, 13, -11, 12, -9, 14, -12, 10, -13, 11, -10, 14, -12, 9, -11, 13, -10, 12, -14, 11, -9, 15, -12, 13, -10, 12, -15]],
  [65.7, 68.4, [20, -30, 41, -40, 30, -57, 35, -45, 40, -50, 61, -73, 45, -40, 50, -30, 60, -39, 55, -30, 40, -45, 35, -57, 29, -40, 31, -35]],
  [68.5, 71.5, [31, -24, 28, -20, 25, -30, 31, -22, 18, -24, 28, -20, 25, -24, 30, -18, 22, -24, 20, -15, 25, -20, 18, -22, 15, -18, 20, -15, 18, -12, 15]],
  [71.7, 91, [
    11, -6, 4, -12, 8, -3, 10, -7, 5, -9, 3, -11, 7, -4, 9, -6, 2, -10, 8, -5,
    6, -9, 3, -7, 10, -4, 5, -8, 7, -3, 9, -6, 4, -10, 6, -2, 8, -7, 5, -4,
    9, -3, 6, -8, 2, -7, 5, -9, 4, -6, 8, -3, 7, -5, 3, -8, 6, -4, 9, -2,
    5, -7, 4, -6, 8, -3, 6, -5, 2, -8, 7, -4, 5, -6, 3, -7, 8, -4]],
];
const WBA: Seg[] = [
  [0, 38.8, [
    0, 3, -5, 2, -4, 6, -3, 5, -2, 4, -6, 3, -7, 5, -2, 4, -3, 6, -4, 2,
    -5, 3, -4, 7, -2, 5, -3, 4, -6, 2, -5, 3, -8, 4, -2, 6, -3, 5, -4, 3,
    -6, 2, -4, 5, -3, 6, -2, 4, -5, 3, -4, 6, -2, 5, -7, 3, -4, 2, -5, 6,
    -3, 4, -2, 5, -6, 3, -4, 2, -5, 4, -3, 7, -4, 2, -6, 3, -5, 4, -2, 5,
    -4, 3, -6, 2, -5, 4, -3, 6, -2, 5, -4, 3, -5, 2, -4, 6, -3, 5, -2, 4,
    -6, 3, -4, 5, -2, 4, -5, 3, -6, 2, -4, 5, -3, 4, -2, 6, -5, 3, -4, 2,
    -5, 4, -3, 6, -2, 5, -4, 3, -6, 2, -5, 4, -3, 5, -4, 2, -6, 3, -4, 5,
    -2, 4, -5, 3, -4, 6, -3, 2, -5, 4, -3, 5, -4, 2, -6, 3]],
  [39, 51.2, [5, -4, 6, -3, 4, -5, 6, -4, 3, -6, 5, -4, 6, -5, 3, -4, 5, -6, 4, -3, 5, -4, 6, -5, 4, -3, 6, -5, 4, -6, 3, -5, 4, -6, 5, -3, 4, -5, 6, -4, 3, -5, 4, -6, 5, -4, 3, -5, 6]],
  [51.3, 65.6, [10, -12, 8, -14, 11, -9, 13, -10, 12, -8, 14, -11, 9, -12, 10, -13, 12, -9, 11, -14, 10, -12, 13, -8, 11, -10, 14, -12, 9, -11, 13, -10, 12, -16, 10, -9, 12, -14, 11, -10, 13, -9, 12, -11, 10, -14, 12, -9, 13, -11, 10, -12, 14, -9, 11, -13, 10, -12, 12, -10, 14, -11, 9, -13, 12, -10, 11, -14, 13, -9, 12, -11]],
  [65.7, 68.3, [10, -14, 12, -15, 11, -13, 10, -12, 14, -11, 13, -15, 12, -16]],
  [68.4, 73.2, [20, 34, -52, 30, -40, 45, -35, 25, -45, 55, -50, 40, -60, 45, -73, 35, -40, 33, -36, 30, -25, 28, -36, 33, -30, 20, -25, 30, -35, 25, -20, 28, -30, 22, -36, 33, -25, 20, -28, 30, -22, 25, -20, 28, -25, 18, -22, 20, -18]],
  [73.3, 76.8, [20, -18, 15, -20, 17, -14, 19, -16, 12, -18, 15, -14, 18, -12, 16, -15, 13, -12]],
  [77, 91, [
    10, -6, 4, -11, 8, -3, 12, -7, 5, -9, 3, -10, 7, -5, 11, -4, 6, -8, 3, -12,
    8, -5, 9, -3, 6, -10, 4, -7, 11, -5, 3, -9, 7, -4, 10, -6, 2, -8, 9, -5,
    6, -11, 4, -7, 8, -3, 10, -6, 5, -9, 4, -7, 11, -5, 6, -8, 3]],
];

const TRACES: Seg[][] = [
  JUNG, IRRE, BHBD, MSGN, ERPF, FREU, MSS, BUCH, GUT, ZWI, ROTE, EMING,
  BFO, OPP, SLE, BABA, BERGE, FELD, KIZ, HDH, SILBW, ENDD, ECH, WBA,
];

function expand(segs: Seg[]): [number, number][] {
  const pts: [number, number][] = [];
  for (const [a, b, vals] of segs) {
    const n = vals.length;
    vals.forEach((v, k) => {
      const t = n > 1 ? a + ((b - a) * k) / (n - 1) : a;
      pts.push([+t.toFixed(3), v]);
    });
  }
  return pts;
}

export default function App() {
  const ref = useRef<HTMLDivElement>(null);

  useEffect(() => {
    if (!ref.current) return;
    const chart = echarts.init(ref.current, null, { renderer: 'svg' });
    const FONT = '"Liberation Sans", Arial, Helvetica, sans-serif';
    const LEFT = 173;
    const TOP = 107;
    const PLOT_W = 1795;
    const ROW_H = 160;
    const HALF = 80;
    const n = STATIONS.length;

    const grid: any[] = [];
    const xAxis: any[] = [];
    const yAxis: any[] = [];
    const series: any[] = [];

    STATIONS.forEach((name, i) => {
      const last = i === n - 1;
      grid.push({
        left: LEFT,
        top: TOP + i * ROW_H,
        width: PLOT_W,
        height: ROW_H,
        show: true,
        borderColor: '#000',
        borderWidth: 2,
        backgroundColor: 'transparent',
      });
      xAxis.push({
        type: 'value',
        gridIndex: i,
        min: X_MIN,
        max: X_MAX,
        interval: X_STEP,
        axisLine: { show: false, onZero: false },
        axisTick: { show: true, inside: true, length: 6, lineStyle: { color: '#000', width: 2 } },
        splitLine: { show: false },
        axisLabel: {
          show: last,
          fontSize: 33,
          color: '#000',
          fontFamily: FONT,
          margin: 6,
          showMaxLabel: false,
        },
        name: last ? X_NAME : '',
        nameLocation: 'middle',
        nameGap: 46,
        nameTextStyle: { fontSize: 37, fontWeight: 'bold', color: '#000', fontFamily: FONT },
      });
      yAxis.push({
        type: 'value',
        gridIndex: i,
        min: -HALF,
        max: HALF,
        interval: HALF,
        axisLine: { show: false },
        axisTick: { show: false },
        splitLine: { show: false },
        axisLabel: {
          show: true,
          formatter: (v: number) => (v === 0 ? name : ''),
          fontSize: 36,
          color: '#000',
          fontFamily: FONT,
          margin: 21,
        },
      });
      series.push({
        type: 'line',
        name,
        xAxisIndex: i,
        yAxisIndex: i,
        data: expand(TRACES[i]),
        showSymbol: false,
        symbol: 'none',
        silent: true,
        clip: true,
        lineStyle: { color: '#000', width: 1.8 },
      });
    });

    chart.setOption({
      animation: false,
      backgroundColor: '#fff',
      title: {
        text: TITLE,
        left: 1079,
        top: 61,
        padding: 0,
        textAlign: 'center',
        textStyle: { fontSize: 37, fontWeight: 'bold', color: '#000', fontFamily: FONT },
      },
      grid,
      xAxis,
      yAxis,
      series,
    });

    return () => chart.dispose();
  }, []);

  return (
    <div
      ref={ref}
      style={{ position: 'absolute', left: 0, top: 0, width: 2005, height: 4080 }}
    />
  );
}
